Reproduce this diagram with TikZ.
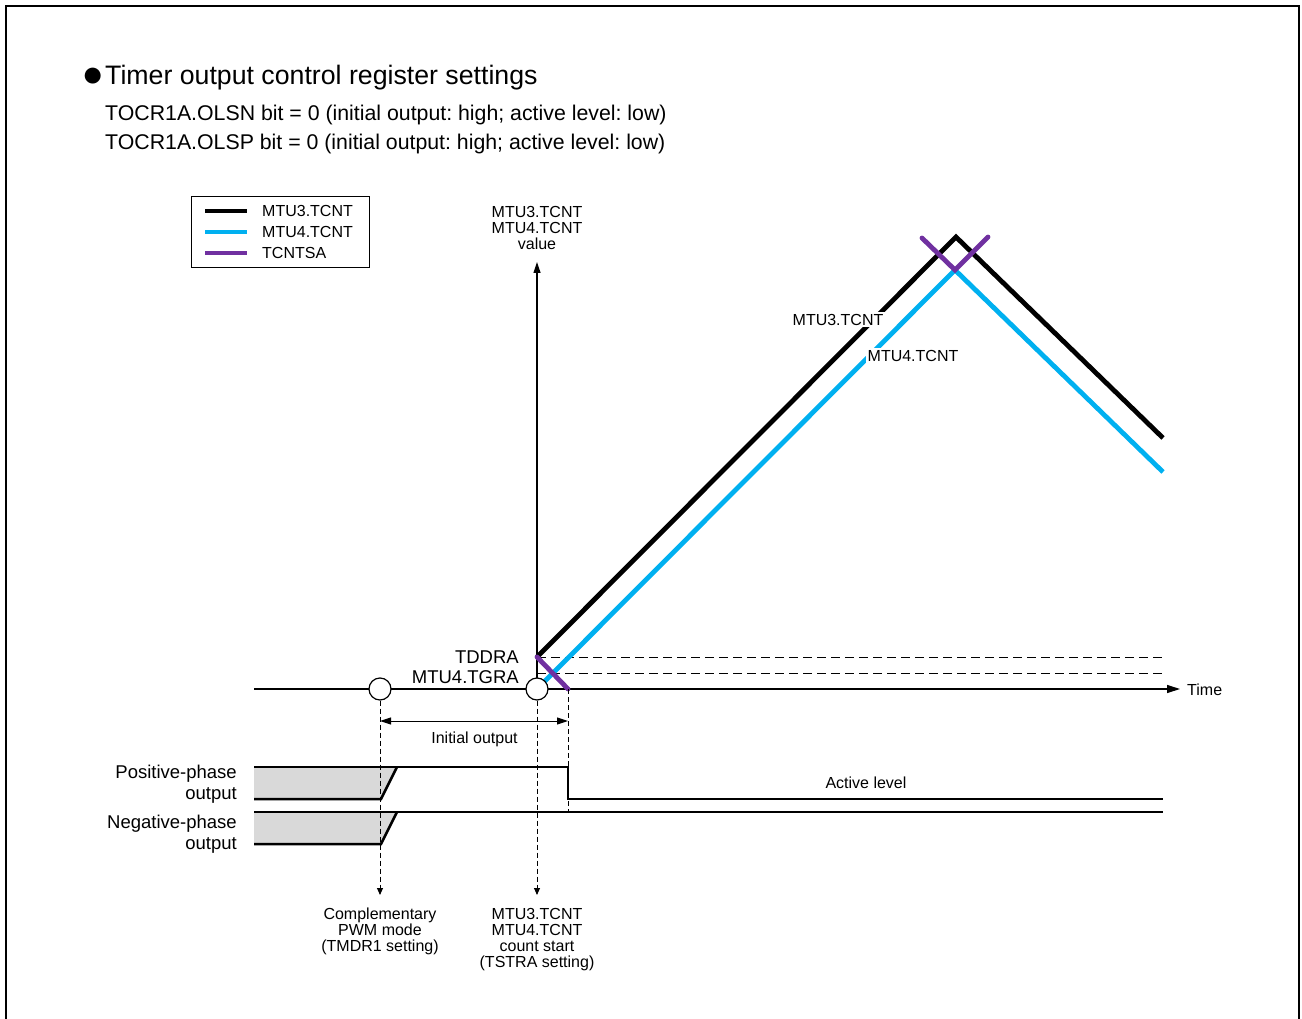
\documentclass[tikz,border=0pt]{standalone}
\usepackage{fontspec}
\setmainfont{Liberation Sans}
\usetikzlibrary{arrows.meta}
\definecolor{tblue}{RGB}{0,176,240}
\definecolor{tpurple}{RGB}{112,48,160}
\definecolor{tgray}{RGB}{217,217,217}
\frenchspacing
\begin{document}
\begin{tikzpicture}[x=1pt,y=-1pt,
  sig/.style={line width=2.5pt, line join=miter},
  cntline/.style={line width=4.8pt, line join=miter},
  ax/.style={line width=1.2pt},
  hdash/.style={line width=0.9pt, dash pattern=on 9pt off 5pt},
  vdash/.style={line width=0.9pt, dash pattern=on 5pt off 3pt},
  small/.style={font=\fontsize{16}{16}\selectfont, inner sep=0pt},
  midtxt/.style={font=\fontsize{18.5}{21.5}\selectfont, inner sep=0pt},
  ring/.style={circle, draw, fill=white, line width=1.2pt, minimum size=22pt, inner sep=0pt},
  bigtip/.style={-{Triangle[length=13pt,width=8pt]}},
  midtip/.style={-{Triangle[length=11pt,width=7pt]}},
  smalltip/.style={-{Triangle[length=7pt,width=6pt]}},
]
\useasboundingbox (0,0) rectangle (1302,1019);
% frame
\draw[line width=1.8pt] (6,1019) -- (6,6) -- (1299,6) -- (1299,1019);

% heading
\node[anchor=base west, font=\fontsize{37}{37}\selectfont, inner sep=0pt] (bullet) at (81.5,87) {●};
\node[anchor=base west, font=\fontsize{26.7}{30}\selectfont, inner sep=0pt] (title) at (105,84.5) {Timer output control register settings};
\node[anchor=base west, font=\fontsize{21.3}{24}\selectfont, inner sep=0pt] (olsn) at (105,121) {TOCR1A.OLSN bit = 0 (initial output: high; active level: low)};
\node[anchor=base west, font=\fontsize{21.3}{24}\selectfont, inner sep=0pt] (olsp) at (105,150) {TOCR1A.OLSP bit = 0 (initial output: high; active level: low)};

% legend
\node[draw, line width=0.9pt, minimum width=178pt, minimum height=71pt, anchor=north west, inner sep=0pt] (legend) at (191,196) {};
\coordinate (la1) at (205,211); \coordinate (lb1) at (247,211);
\coordinate (la2) at (205,232); \coordinate (lb2) at (247,232);
\coordinate (la3) at (205,253); \coordinate (lb3) at (247,253);
\draw[line width=4pt, black] (la1) -- (lb1);
\draw[line width=4pt, tblue] (la2) -- (lb2);
\draw[line width=4pt, tpurple] (la3) -- (lb3);
\node[small, anchor=base west] (lt1) at (262,217) {MTU3.TCNT};
\node[small, anchor=base west] (lt2) at (262,238) {MTU4.TCNT};
\node[small, anchor=base west] (lt3) at (262,259) {TCNTSA};

% key coordinates
\coordinate (tddra) at (537,657);
\coordinate (tgra) at (537,673);
\coordinate (hd1) at (1163,657);
\coordinate (hd2) at (1163,673);
\coordinate (pk3) at (956,237);
\coordinate (end3) at (1163,438);
\coordinate (st4) at (537,689);
\coordinate (pk4) at (955,270);
\coordinate (end4) at (1163,472);
\coordinate (ts) at (568,689);
\coordinate (va) at (922,238);
\coordinate (vb) at (988,237);
\coordinate (xs) at (254,689);
\coordinate (xe) at (1180,689);
\coordinate (ytop) at (537,262);

% dashed levels
\draw[hdash] (tddra) -- (hd1);
\draw[hdash] (tgra) -- (hd2);

% axes
\draw[ax, bigtip] (xs) -- (xe);
\draw[ax, midtip] (st4) -- (ytop);

% count lines
\draw[cntline, black] (tddra) -- (pk3) -- (end3);
\draw[cntline, tblue] (st4) -- (pk4) -- (end4);
\draw[cntline, tpurple, line cap=round] (tddra) -- (ts);
\draw[cntline, tpurple, line cap=round] (va) -- (pk4) -- (vb);

% curve labels
\node[small, anchor=base, fill=white, inner sep=1.5pt] (m3) at (838,325) {MTU3.TCNT};
\node[small, anchor=base, fill=white, inner sep=1.5pt] (m4) at (913,361) {MTU4.TCNT};
\node[small, align=center, anchor=north] (yl) at (537,206.5) {MTU3.TCNT\\MTU4.TCNT\\value};
\node[small, anchor=base west] (time) at (1187,695) {Time};
\node[midtxt, anchor=base east] (tdd) at (519,663.8) {TDDRA};
\node[midtxt, anchor=base east] (tgr) at (519,683.5) {MTU4.TGRA};

% output waveforms
\fill[tgray] (254,767) -- (397,767) -- (381,799) -- (254,799) -- cycle;
\fill[tgray] (254,812) -- (397,812) -- (381,844) -- (254,844) -- cycle;
\draw[sig] (254,767) -- (568,767) -- (568,799) -- (1163,799);
\draw[sig] (254,799) -- (381,799) -- (397,767);
\draw[sig] (254,812) -- (1163,812);
\draw[sig] (254,844) -- (381,844) -- (397,812);
\node[midtxt, align=right, anchor=north east] (pos) at (237,764.5) {Positive-phase\\output};
\node[midtxt, align=right, anchor=north east] (neg) at (237,814.5) {Negative-phase\\output};
\node[small, anchor=base] (act) at (866,788) {Active level};

% circles
\node[ring] (c1) at (380,689) {};
\node[ring] (c2) at (537,689) {};

% vertical dashed markers
\coordinate (b1) at (380,895);
\coordinate (b2) at (537,895);
\coordinate (b3) at (568,812);
\draw[vdash, smalltip] (c1.south) -- (b1);
\draw[vdash, smalltip] (c2.south) -- (b2);
\draw[vdash] (ts) -- (b3);

% initial output span
\coordinate (io1) at (380,721);
\coordinate (io2) at (568,721);
\draw[line width=1pt, {Triangle[length=11pt,width=7pt]}-{Triangle[length=11pt,width=7pt]}] (io1) -- (io2);
\node[small, anchor=base] (iol) at (474.5,743) {Initial output};

% bottom labels
\node[small, align=center, anchor=north] (cpwm) at (380,908) {Complementary\\PWM mode\\(TMDR1 setting)};
\node[small, align=center, anchor=north] (cst) at (537,908) {MTU3.TCNT\\MTU4.TCNT\\count start\\(TSTRA setting)};
\end{tikzpicture}
\end{document}
